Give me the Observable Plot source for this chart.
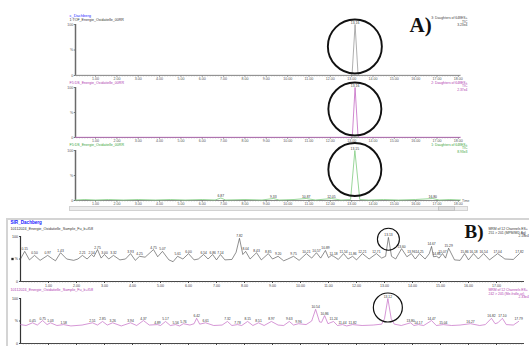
<!DOCTYPE html>
<html><head><meta charset="utf-8">
<script src="https://cdn.jsdelivr.net/npm/d3@7"></script>
<script src="https://cdn.jsdelivr.net/npm/@observablehq/plot@0.6"></script>
<style>
html,body{margin:0;padding:0;background:#fff;}
#c{position:relative;width:529px;height:346px;overflow:hidden;background:#fff;}
#c svg{position:absolute;left:0;top:0;}
.deco{position:absolute;box-sizing:border-box;}
</style></head><body><div id="c"></div>
<script>
// ---------- DATA ----------
const aMajorTicks = [1,2,3,4,5,6,7,8,9,10,11,12,13,14,15,16,17,18];
const bMajorTicks = [1,2,3,4,5,6,7,8,9,10,11,12,13,14,15,16,17];
const yTicks = [0, 50, 100];

const a1Trace = [[0.06,0.4],[12.95,0.4],[13.02,2],[13.16,100],[13.3,2],[13.38,0.4],[18.1,0.4]];
const a2Trace = [[0.06,0.4],[12.95,0.4],[13.03,2],[13.16,100],[13.3,2],[13.38,0.4],[18.1,0.4]];
const a3Trace = [[0.06,1],[0.5,2],[1.0,1],[1.6,2],[2.3,1],[3.0,2],[3.8,1],[4.5,2],[5.2,1],[6.0,2],[6.6,1],[6.87,5],[7.1,1],[8.0,2],[8.8,1],[9.33,4],[9.6,1],[10.3,2],[10.87,4],[11.3,1],[12.05,4],[12.5,1],[12.95,2],[13.15,100],[13.38,2],[13.8,1],[14.5,2],[15.2,1],[16.0,2],[16.8,4],[17.1,1],[17.6,2],[18.1,1]];
const a1Labels = [[13.16,100,"13.16"]];
const a2Labels = [[13.16,100,"13.16"]];
const a3Labels = [[13.15,100,"13.15"],[6.87,5,"6.87"],[9.33,4,"9.33"],[10.87,4,"10.87"],[12.05,4,"12.05"],[16.80,4,"16.80"]];

const bTopTrace = [[0.00,50],[0.15,67],[0.32,48],[0.50,58],[0.70,47],[0.97,58],[1.15,50],[1.25,46],[1.43,64],[1.65,50],[1.9,47],[2.05,50],[2.21,58],[2.38,50],[2.54,60],[2.62,55],[2.75,71],[2.88,52],[3.00,60],[3.15,50],[3.32,58],[3.55,48],[3.75,50],[3.93,62],[4.1,47],[4.25,56],[4.45,54],[4.75,71],[4.9,55],[5.07,67],[5.3,48],[5.45,44],[5.61,56],[5.8,50],[6.00,62],[6.2,48],[6.35,50],[6.54,60],[6.7,50],[6.86,60],[7.0,48],[7.14,60],[7.3,48],[7.55,49],[7.7,65],[7.82,96],[7.94,60],[8.04,67],[8.2,50],[8.43,64],[8.6,48],[8.85,62],[9.0,50],[9.20,56],[9.4,46],[9.55,50],[9.75,56],[9.95,47],[10.21,62],[10.4,52],[10.57,64],[10.72,52],[10.89,69],[11.0,53],[11.10,58],[11.18,56],[11.35,49],[11.54,62],[11.7,50],[11.86,56],[12.0,48],[12.21,62],[12.45,50],[12.71,62],[12.9,52],[13.04,56],[13.14,98],[13.25,56],[13.4,50],[13.61,73],[13.8,55],[13.96,62],[14.1,50],[14.25,62],[14.45,50],[14.6,62],[14.68,78],[14.75,55],[14.86,56],[14.95,52],[15.07,62],[15.18,52],[15.29,74],[15.5,48],[15.7,47],[15.86,62],[16.0,48],[16.18,62],[16.35,50],[16.54,62],[16.75,48],[17.04,62],[17.3,50],[17.6,49],[17.82,62]];
const bTopLabels = [[0.15,67,"0.15"],[0.50,58,"0.50"],[0.97,58,"0.97"],[1.43,64,"1.43"],[2.21,58,"2.21"],[2.54,60,"2.54"],[2.75,71,"2.75"],[3.00,60,"3.00"],[3.32,58,"3.32"],[3.93,62,"3.93"],[4.25,56,"4.25"],[4.75,71,"4.75"],[5.07,67,"5.07"],[5.61,56,"5.61"],[6.00,62,"6.00"],[6.54,60,"6.54"],[6.86,60,"6.86"],[7.14,60,"7.14"],[7.82,96,"7.82"],[8.04,67,"8.04"],[8.43,64,"8.43"],[8.85,62,"8.85"],[9.20,56,"9.20"],[9.75,56,"9.75"],[10.21,62,"10.21"],[10.57,64,"10.57"],[10.89,69,"10.89"],[11.18,56,"11.18"],[11.54,62,"11.54"],[11.86,56,"11.86"],[12.21,62,"12.21"],[12.71,62,"12.71"],[13.14,98,"13.13"],[13.61,73,"13.60"],[13.96,62,"13.96"],[14.25,62,"14.25"],[14.68,78,"14.67"],[14.86,56,"14.86"],[15.07,62,"15.07"],[15.29,74,"15.29"],[15.86,62,"15.86"],[16.18,62,"16.18"],[16.54,62,"16.54"],[17.04,62,"17.04"],[17.82,62,"17.82"]];

const bBotTrace = [[0.00,42],[0.2,40],[0.43,46],[0.6,41],[0.79,51],[0.95,42],[1.07,46],[1.3,40],[1.54,42],[1.8,39],[2.2,41],[2.57,46],[2.75,41],[2.93,49],[3.1,41],[3.29,46],[3.6,39],[3.93,46],[4.15,40],[4.39,51],[4.6,41],[4.89,42],[5.0,40],[5.18,49],[5.35,40],[5.54,42],[5.68,39],[5.82,44],[6.05,41],[6.2,44],[6.29,56],[6.4,43],[6.61,46],[6.9,40],[7.2,41],[7.39,49],[7.55,40],[7.75,42],[7.9,40],[8.11,49],[8.3,40],[8.5,46],[8.7,40],[8.96,49],[9.2,41],[9.4,40],[9.6,49],[9.75,41],[9.93,44],[10.2,42],[10.4,50],[10.54,76],[10.68,48],[10.75,47],[10.86,62],[10.98,44],[11.18,49],[11.32,40],[11.5,42],[11.65,39],[11.86,42],[12.2,40],[12.6,41],[12.9,43],[13.0,55],[13.12,100],[13.24,55],[13.35,43],[13.6,40],[13.93,46],[14.05,40],[14.21,42],[14.4,40],[14.68,51],[14.85,40],[15.1,42],[15.4,40],[15.7,41],[16.07,44],[16.4,40],[16.6,42],[16.82,56],[16.95,44],[17.05,46],[17.21,56],[17.35,42],[17.6,41],[17.79,49]];
const bBotLabels = [[0.43,46,"0.45"],[0.79,51,"0.75"],[1.07,46,"1.03"],[1.54,42,"1.58"],[2.57,46,"2.51"],[2.93,49,"2.85"],[3.29,46,"3.26"],[3.93,46,"3.94"],[4.39,51,"4.37"],[4.89,42,"4.89"],[5.18,49,"5.17"],[5.54,42,"5.56"],[5.82,44,"5.76"],[6.29,56,"6.42"],[6.61,46,"6.61"],[7.39,49,"7.32"],[7.75,42,"7.78"],[8.11,49,"8.15"],[8.5,46,"8.51"],[8.96,49,"8.97"],[9.6,49,"9.63"],[9.93,44,"9.96"],[10.54,76,"10.54"],[10.86,62,"10.86"],[11.18,49,"11.24"],[11.5,42,"11.44"],[11.86,42,"11.82"],[13.12,100,"13.12"],[13.93,46,"13.80"],[14.21,42,"14.17"],[14.68,51,"14.47"],[15.1,42,"15.04"],[16.07,44,"16.27"],[16.82,56,"16.82"],[17.21,56,"17.10"],[17.79,49,"17.79"]];

const titlesA = ["c_Dachberg", "1:TOF_Energie_Oxidatielle_00RR", "F5:DS_Energie_Oxidatielle_00RR", "F5:DS_Energie_Oxidatielle_00RR"];
const infoA = ["3: Daughters of 648ES+\nTIC\n3.23e4", "2: Daughters of 648ES+\nTIC\n2.37e4", "1: Daughters of 648ES+\nTIC\n8.93e3"];
const titlesB = ["SIR_Dachberg", "10112024_Energie_Oxidatielle_Sample_Fu_b+f58"];
const infoB = ["MRM of 12 Channels ES+\n251 > 201 (MPM/MD Ag)", "2.18e4", "MRM of 12 Channels ES+\n242 > 205 (Me-frolle-ur)", "2.33e4"];

// ---------- DRAW ----------
const SANS = "'Liberation Sans', Arial, sans-serif";
const SERIF = "'Liberation Serif', 'Times New Roman', serif";
const c = document.getElementById("c");
const A_X = [0.06, 18.1], B_X = [0, 18];
const fmt2 = d3.format(".2f");

function panel(xd, m, marks) {
  const p = Plot.plot({
    width: 529, height: 346,
    marginLeft: m[0], marginRight: m[1], marginTop: m[2], marginBottom: m[3],
    x: {domain: xd, axis: null, label: null},
    y: {domain: [0, 100], axis: null, label: null},
    style: {background: "transparent", fontFamily: SANS, overflow: "hidden"},
    marks
  });
  c.append(p);
}
function txt(s, o) {
  return Plot.text([s], {text: d => d, fontFamily: SANS, lineHeight: 1, ...o});
}
function axesA() {
  return [
    Plot.ruleX([A_X[0]], {stroke: "#6a6a6a", strokeWidth: 1.5}),
    Plot.ruleY([0], {stroke: "#8a8a8a", strokeWidth: 1}),
    Plot.axisX({ticks: d3.range(0.125, 18.1, 0.125), tickSize: 1.4, fill: "none", stroke: "#888", strokeWidth: 0.5, label: null}),
    Plot.axisX({ticks: aMajorTicks, tickSize: 1.6, tickPadding: 0.4, tickFormat: fmt2, fontSize: 3.6, stroke: "#777", fill: "#555", label: null}),
    Plot.axisY({ticks: yTicks, tickFormat: d => d === 50 ? "%" : String(d), tickSize: 1.2, tickPadding: 1, fontSize: 3.6, fill: "#555", stroke: "#777", label: null})
  ];
}
function axesB(withLabels) {
  return [
    Plot.ruleX([B_X[0]], {stroke: "#333", strokeWidth: 1.2}),
    Plot.ruleY([0], {stroke: "#333", strokeWidth: 0.9}),
    Plot.axisX({ticks: d3.range(0.1, 18, 0.1), tickSize: 1.4, fill: "none", stroke: "#555", strokeWidth: 0.5, label: null}),
    Plot.axisX({ticks: bMajorTicks, tickSize: 2, tickPadding: 1, tickFormat: fmt2, fontSize: 3.6, stroke: "#444", fill: withLabels ? "#444" : "none", label: null}),
    Plot.axisY({ticks: yTicks, tickFormat: d => d === 50 ? "%" : String(d), tickSize: 1, tickPadding: 1.5, fontSize: 3.6, fill: "#333", stroke: "#444", label: null})
  ];
}
function trace(data, color, w) {
  return Plot.line(data, {x: d => d[0], y: d => d[1], stroke: color, strokeWidth: w});
}
function labels(data, fs) {
  return Plot.text(data, {x: d => d[0], y: d => d[1], text: d => d[2], dy: -1, lineAnchor: "bottom", fontSize: fs, fill: "#333"});
}
function ring(x, y, r, w) {
  return Plot.dot([[x, y]], {x: d => d[0], y: d => d[1], r, stroke: "#111", strokeWidth: w, fill: "none"});
}

// Panel A1
panel(A_X, [75, 69, 24, 271], [
  ...axesA(),
  trace(a1Trace, "#9a9a9a", 0.8),
  labels(a1Labels, 3.4),
  ring(13.15, 57, 27, 1.9),
  txt(titlesA[0], {frameAnchor: "top-left", dx: -6, dy: -9, textAnchor: "start", lineAnchor: "middle", fontSize: 4, fill: "#2b2bff"}),
  txt(titlesA[1], {frameAnchor: "top-left", dx: -6, dy: -5, textAnchor: "start", lineAnchor: "middle", fontSize: 3.6, fill: "#333"}),
  txt(infoA[0], {frameAnchor: "top-right", dx: 7, dy: -7.5, textAnchor: "end", lineAnchor: "top", fontSize: 3.4, fill: "#444"}),
  txt("A)", {frameAnchor: "top-right", dx: -51, dy: 7, textAnchor: "start", lineAnchor: "bottom", fontSize: 21, fontWeight: "bold", fontFamily: SERIF, fill: "#111"})
]);
// Panel A2
panel(A_X, [75, 69, 87, 209], [
  ...axesA(),
  trace(a2Trace, "#c46ac4", 0.8),
  labels(a2Labels, 3.4),
  ring(13.15, 57, 26.5, 1.9),
  txt(titlesA[2], {frameAnchor: "top-left", dx: -6, dy: -5, textAnchor: "start", lineAnchor: "middle", fontSize: 3.6, fill: "#b03cb0"}),
  txt(infoA[1], {frameAnchor: "top-right", dx: 7, dy: -6, textAnchor: "end", lineAnchor: "top", fontSize: 3.4, fill: "#b03cb0"})
]);
// Panel A3
panel(A_X, [75, 69, 150, 146], [
  ...axesA(),
  trace(a3Trace, "#7fcc7f", 0.8),
  labels(a3Labels, 3.4),
  ring(13.15, 62, 26.5, 1.9),
  txt(titlesA[3], {frameAnchor: "top-left", dx: -6, dy: -6, textAnchor: "start", lineAnchor: "middle", fontSize: 3.6, fill: "#3aa53a"}),
  txt(infoA[2], {frameAnchor: "top-right", dx: 7, dy: -7, textAnchor: "end", lineAnchor: "top", fontSize: 3.4, fill: "#3aa53a"}),
  txt("Time", {frameAnchor: "bottom-right", dx: 1.5, dy: 0, textAnchor: "start", lineAnchor: "middle", fontSize: 3.4, fill: "#555"})
]);
// Panel B top
panel(B_X, [20, 5, 236, 65], [
  ...axesB(true),
  trace(bTopTrace, "#444", 0.6),
  labels(bTopLabels, 3.3),
  ring(13.14, 94, 11, 1.1),
  Plot.dot([[0, 50]], {x: d => d[0], y: d => d[1], dx: -8, symbol: "square", r: 1.3, fill: "#222"}),
  txt(titlesB[0], {frameAnchor: "top-left", dx: -10, dy: -14, textAnchor: "start", lineAnchor: "middle", fontSize: 4.6, fontWeight: "bold", fill: "#1a1aff"}),
  txt(titlesB[1], {frameAnchor: "top-left", dx: -10, dy: -8, textAnchor: "start", lineAnchor: "middle", fontSize: 3.7, fill: "#333"}),
  txt(infoB[0], {frameAnchor: "top-right", dx: -36, dy: -8.5, textAnchor: "start", lineAnchor: "top", fontSize: 3.4, fill: "#333"}),
  txt(infoB[1], {frameAnchor: "top-right", dx: -6, dy: -1.5, textAnchor: "start", lineAnchor: "top", fontSize: 3.4, fill: "#333"}),
  txt("B)", {frameAnchor: "top-right", dx: -60, dy: 1, textAnchor: "start", lineAnchor: "bottom", fontSize: 19, fontWeight: "bold", fontFamily: SERIF, fill: "#111"})
]);
// Panel B bottom
panel(B_X, [20, 5, 298, 3], [
  ...axesB(false),
  trace(bBotTrace, "#c46ac4", 0.7),
  labels(bBotLabels, 3.3),
  ring(13.12, 80, 14.5, 1.2),
  txt(titlesB[1], {frameAnchor: "top-left", dx: -10, dy: -9, textAnchor: "start", lineAnchor: "middle", fontSize: 3.7, fill: "#b03cb0"}),
  txt(infoB[2], {frameAnchor: "top-right", dx: -36, dy: -9.5, textAnchor: "start", lineAnchor: "top", fontSize: 3.4, fill: "#b03cb0"}),
  txt(infoB[3], {frameAnchor: "top-right", dx: -6, dy: -2.5, textAnchor: "start", lineAnchor: "top", fontSize: 3.4, fill: "#b03cb0"})
]);

// window chrome: scrollbar under panel A and frame of panel B
function deco(css) { const d = document.createElement("div"); d.className = "deco"; Object.assign(d.style, css); c.append(d); }
deco({left: "69px", top: "206px", width: "399px", height: "5px", background: "#ececec", border: "1px solid #d2d2d2"});
deco({left: "438px", top: "206px", width: "17px", height: "5px", background: "#dcdcdc", border: "1px solid #c4c4c4"});
deco({left: "6px", top: "218px", width: "523px", height: "2px", background: "#d4d4d4"});
deco({left: "6px", top: "218px", width: "2px", height: "128px", background: "#d4d4d4"});
</script></body></html>
